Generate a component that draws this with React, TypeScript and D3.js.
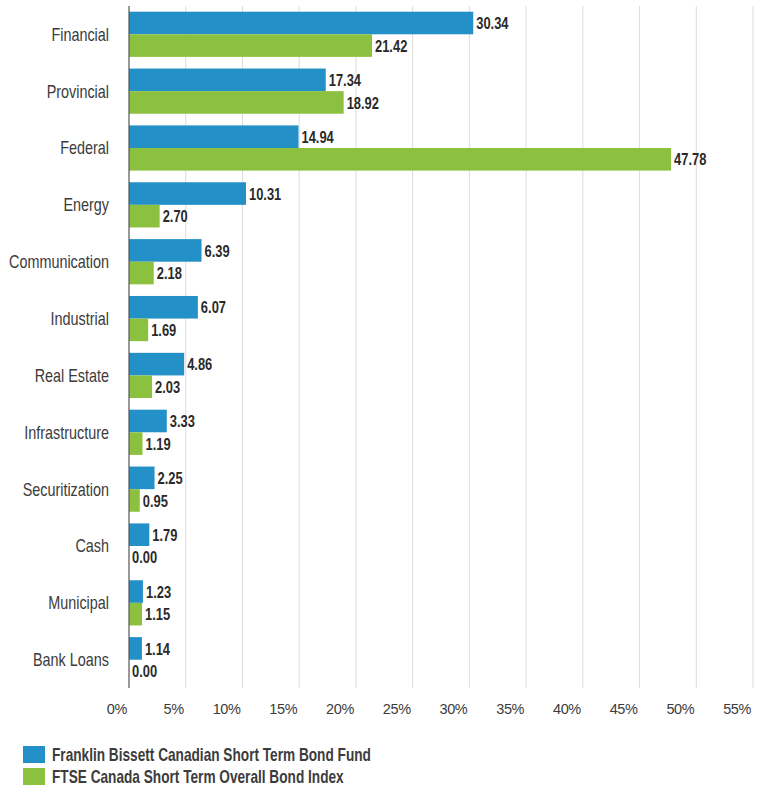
import { useEffect, useRef } from "react"
import * as d3 from "d3"

const categorias = [
  "Financial",
  "Provincial",
  "Federal",
  "Energy",
  "Communication",
  "Industrial",
  "Real Estate",
  "Infrastructure",
  "Securitization",
  "Cash",
  "Municipal",
  "Bank Loans",
]
const fondo = [30.34, 17.34, 14.94, 10.31, 6.39, 6.07, 4.86, 3.33, 2.25, 1.79, 1.23, 1.14]
const indice = [21.42, 18.92, 47.78, 2.7, 2.18, 1.69, 2.03, 1.19, 0.95, 0.0, 1.15, 0.0]
const ticks = [0, 5, 10, 15, 20, 25, 30, 35, 40, 45, 50, 55]
const series = [
  { nombre: "Franklin Bissett Canadian Short Term Bond Fund", color: "#2490c8", valores: fondo },
  { nombre: "FTSE Canada Short Term Overall Bond Index", color: "#8cc13f", valores: indice },
]

const FUENTE = "'Liberation Sans', Arial, sans-serif"
const TEXTO = "#3c3c3c"
// la fuente original es condensada: se comprime en horizontal
const ESTRECHO = 0.8

export default function App() {
  const svgRef = useRef<SVGSVGElement>(null)

  useEffect(() => {
    if (!svgRef.current) return
    const svg = d3.select(svgRef.current)
    svg.selectAll("*").remove()

    // Dimensiones
    const width = 764
    const margin = { top: 6, left: 129, right: 11 }
    const plotBottom = 688

    const x = d3.scaleLinear().domain([0, 55]).range([margin.left, width - margin.right])
    const y = d3.scaleBand().domain(categorias).range([margin.top, plotBottom]).paddingInner(0.205).paddingOuter(0.1)
    const y1 = d3.scaleBand().domain(series.map((s) => s.nombre)).range([0, y.bandwidth()])

    // Rejilla
    svg.append("g")
      .selectAll("line")
      .data(ticks.slice(1))
      .enter()
      .append("line")
      .attr("x1", (d) => x(d))
      .attr("x2", (d) => x(d))
      .attr("y1", margin.top)
      .attr("y2", plotBottom)
      .attr("stroke", "#dcdcdc")
      .attr("stroke-width", 1)

    // Etiquetas del eje x
    svg.append("g")
      .selectAll("text")
      .data(ticks)
      .enter()
      .append("text")
      .attr("x", (d) => x(d) - 2)
      .attr("y", 714)
      .attr("text-anchor", "end")
      .style("font-family", FUENTE)
      .style("font-size", "14.5px")
      .style("letter-spacing", "-0.4px")
      .attr("fill", TEXTO)
      .text((d) => `${d}%`)

    // Barras
    series.forEach((s) => {
      const g = svg.append("g")
      g.selectAll("rect")
        .data(categorias)
        .enter()
        .append("rect")
        .attr("x", x(0))
        .attr("y", (d) => y(d)! + y1(s.nombre)!)
        .attr("width", (d, i) => x(s.valores[i]) - x(0))
        .attr("height", y1.bandwidth())
        .attr("fill", s.color)

      g.selectAll("text")
        .data(categorias)
        .enter()
        .append("text")
        .attr(
          "transform",
          (d, i) => `translate(${x(s.valores[i]) + 3},${y(d)! + y1(s.nombre)! + y1.bandwidth() / 2}) scale(0.76,1)`
        )
        .attr("dy", "0.36em")
        .style("font-family", FUENTE)
        .style("font-size", "17px")
        .style("font-weight", "bold")
        .attr("fill", "#2a2a2a")
        .text((d, i) => s.valores[i].toFixed(2))
    })

    // Eje vertical
    svg.append("line")
      .attr("x1", x(0))
      .attr("x2", x(0))
      .attr("y1", margin.top)
      .attr("y2", plotBottom)
      .attr("stroke", "#555")
      .attr("stroke-width", 1.2)

    // Etiquetas de categorías
    svg.append("g")
      .selectAll("text")
      .data(categorias)
      .enter()
      .append("text")
      .attr("transform", (d) => `translate(109,${y(d)! + y.bandwidth() / 2}) scale(${ESTRECHO},1)`)
      .attr("dy", "0.36em")
      .attr("text-anchor", "end")
      .style("font-family", FUENTE)
      .style("font-size", "18px")
      .attr("fill", TEXTO)
      .text((d) => d)

    // Leyenda
    const legend = svg.append("g").attr("transform", "translate(23, 746)")
    series.forEach((s, i) => {
      const row = legend.append("g").attr("transform", `translate(0, ${i * 22})`)
      row.append("rect").attr("width", 22).attr("height", 17).attr("fill", s.color)
      row.append("text")
        .attr("transform", `translate(29,8.5) scale(0.78,1)`)
        .attr("dy", "0.36em")
        .style("font-family", FUENTE)
        .style("font-size", "17.5px")
        .style("font-weight", "bold")
        .attr("fill", TEXTO)
        .text(s.nombre)
    })
  }, [])

  return (
    <svg
      ref={svgRef}
      width={764}
      height={788}
      style={{ position: "absolute", left: 0, top: 0, background: "#fff" }}
    />
  )
}
